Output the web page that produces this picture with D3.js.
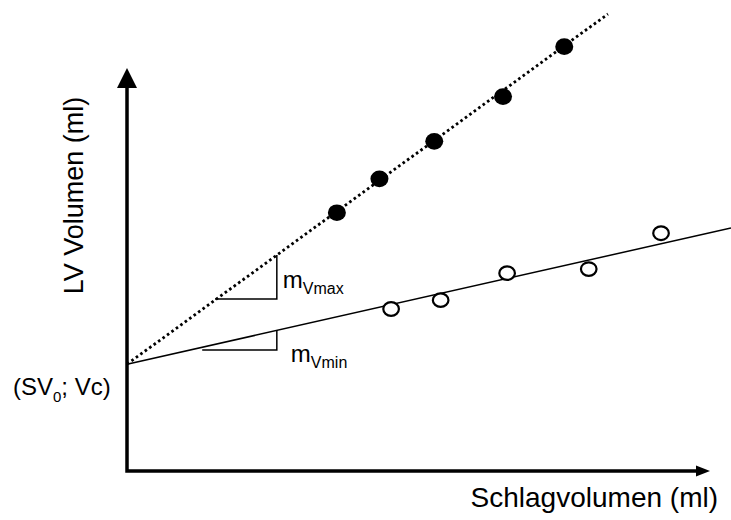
<!DOCTYPE html>
<html>
<head>
<meta charset="utf-8">
<script src="https://cdn.jsdelivr.net/npm/d3@7"></script>
<style>
  body { margin: 0; background: #fff; }
  svg text { font-family: 'Liberation Sans', Arial, sans-serif; fill: #000; }
</style>
</head>
<body>
<div id="chart"></div>
<script>
// intercept (SV0; Vc) on the LV volume axis
const sv0 = 0;
const vc = 26.5;

// filled points, Vmax series
const vmaxX = [36.0, 43.3, 52.7, 64.5, 75.0];
const vmaxY = [64.1, 72.5, 81.8, 92.9, 105.3];

// open points, Vmin series
const vminX = [45.3, 53.8, 65.2, 79.2, 91.6];
const vminY = [40.2, 42.4, 49.1, 50.1, 59.0];

// regression line end points
const fitMaxEnd = [82.5, 113.4];
const fitMinEnd = [103.6, 60.3];

// slope triangles
const slopeX0 = [15.1, 12.9];
const slopeX1 = [25.7, 25.7];
const slopeY0 = [42.7, 30.0];
const slopeY1 = [53.6, 35.0];
const slopeNames = ['Vmax', 'Vmin'];

const width = 731;
const height = 520;

const svg = d3
  .select('#chart')
  .append('svg')
  .attr('width', width)
  .attr('height', height);

const x = d3.scaleLinear().domain([0, 100]).range([127, 710]);
const y = d3.scaleLinear().domain([0, 100]).range([471, 68]);

const line = d3
  .line()
  .x((d) => x(d[0]))
  .y((d) => y(d[1]));

// fit lines
svg
  .append('path')
  .datum([[sv0, vc], fitMaxEnd])
  .attr('d', line)
  .attr('fill', 'none')
  .attr('stroke', '#000')
  .attr('stroke-width', 2.8)
  .attr('stroke-dasharray', '2.6 2.9');

svg
  .append('path')
  .datum([[sv0, vc], fitMinEnd])
  .attr('d', line)
  .attr('fill', 'none')
  .attr('stroke', '#000')
  .attr('stroke-width', 1.5);

// slope triangles
const slopes = slopeNames.map((name, i) => ({
  name: name,
  x0: slopeX0[i],
  x1: slopeX1[i],
  y0: slopeY0[i],
  y1: slopeY1[i],
}));

svg
  .selectAll('path.slope')
  .data(slopes)
  .enter()
  .append('path')
  .attr('class', 'slope')
  .attr('d', (d) => line([[d.x0, d.y0], [d.x1, d.y0], [d.x1, d.y1]]))
  .attr('fill', 'none')
  .attr('stroke', '#000')
  .attr('stroke-width', 1.5);

const slopeLabels = svg
  .selectAll('text.slope')
  .data(slopes)
  .enter()
  .append('text')
  .attr('class', 'slope')
  .attr('x', (d) => x(d.x1) + (d.name === 'Vmax' ? 6 : 14))
  .attr('y', (d) => y(d.y0) + (d.name === 'Vmax' ? -11 : 12))
  .style('font-size', '24px');

slopeLabels.append('tspan').text('m');
slopeLabels
  .append('tspan')
  .attr('dy', 6)
  .style('font-size', '16px')
  .text((d) => d.name);

// data points
const maxPts = vmaxX.map((v, i) => [v, vmaxY[i]]);
const minPts = vminX.map((v, i) => [v, vminY[i]]);

svg
  .selectAll('ellipse.max')
  .data(maxPts)
  .enter()
  .append('ellipse')
  .attr('class', 'max')
  .attr('cx', (d) => x(d[0]))
  .attr('cy', (d) => y(d[1]))
  .attr('rx', 9)
  .attr('ry', 8.3)
  .attr('fill', '#000');

svg
  .selectAll('ellipse.min')
  .data(minPts)
  .enter()
  .append('ellipse')
  .attr('class', 'min')
  .attr('cx', (d) => x(d[0]))
  .attr('cy', (d) => y(d[1]))
  .attr('rx', 7.8)
  .attr('ry', 6.8)
  .attr('fill', '#fff')
  .attr('stroke', '#000')
  .attr('stroke-width', 2.2);

// axes with arrow heads
svg
  .append('path')
  .attr('d', `M${x(0)},${y(0) + 1.7}V${y(100) + 18}M${x(0) - 1.7},${y(0)}H${x(100) - 12}`)
  .attr('fill', 'none')
  .attr('stroke', '#000')
  .attr('stroke-width', 3.5);

svg
  .append('path')
  .attr('d', `M${x(0)},${y(100)}L${x(0) - 10},${y(100) + 20}L${x(0) + 10},${y(100) + 20}Z`)
  .attr('fill', '#000');

svg
  .append('path')
  .attr('d', `M${x(100)},${y(0)}L${x(100) - 14},${y(0) - 5.5}L${x(100) - 14},${y(0) + 5.5}Z`)
  .attr('fill', '#000');

// axis titles
svg
  .append('text')
  .attr('transform', `translate(83, ${(y(0) + y(100)) / 2 - 74}) rotate(-90)`)
  .attr('text-anchor', 'middle')
  .style('font-size', '27px')
  .text('LV Volumen (ml)');

svg
  .append('text')
  .attr('x', 718)
  .attr('y', 507)
  .attr('text-anchor', 'end')
  .style('font-size', '28px')
  .text('Schlagvolumen (ml)');

// intercept label
const icept = svg
  .append('text')
  .attr('x', 13)
  .attr('y', y(vc) + 31)
  .style('font-size', '24px');

icept.append('tspan').text('(SV');
icept.append('tspan').attr('dy', 7).style('font-size', '15px').text('0');
icept.append('tspan').attr('dy', -7).text('; Vc)');
</script>
</body>
</html>
